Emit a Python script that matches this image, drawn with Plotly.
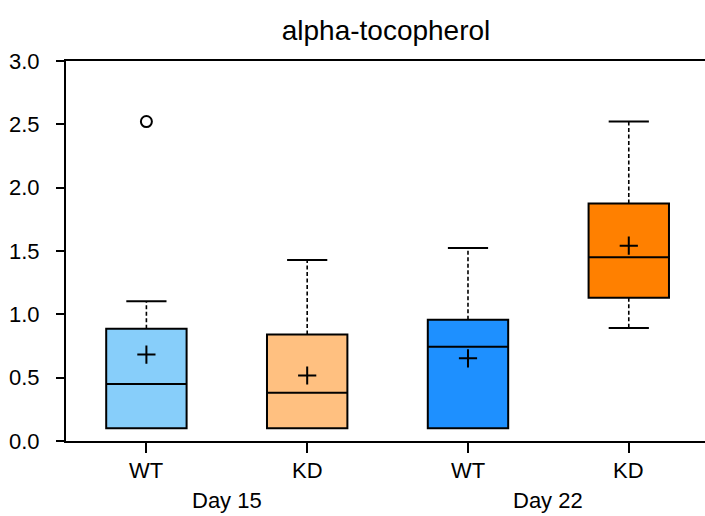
import plotly.graph_objects as go

# ---- data ----
categories = ["WT", "KD", "WT", "KD"]
days = ["Day 15", "Day 22"]
q1 = [0.10, 0.10, 0.10, 1.13]
median = [0.45, 0.38, 0.745, 1.45]
q3 = [0.887, 0.84, 0.958, 1.875]
lower = [0.10, 0.10, 0.10, 0.893]
upper = [1.103, 1.429, 1.524, 2.522]
means = [0.682, 0.517, 0.653, 1.542]
outlier_x = [0]
outlier_y = [2.522]
colors = ["#87CEFA", "#FFC080", "#1E90FF", "#FF8000"]

FONT = "Liberation Sans, Arial, sans-serif"
BOX_W = 0.5
CAP_W = 0.25
PLOT_L, PLOT_T, PLOT_B = 65.5, 61, 441.5
H = 516

fig = go.Figure()

# whiskers (dashed) and caps (solid)
wx, wy, cx, cy = [], [], [], []
for i in range(len(categories)):
    if upper[i] > q3[i]:
        wx += [i, i, None]; wy += [q3[i], upper[i], None]
        cx += [i - CAP_W / 2, i + CAP_W / 2, None]; cy += [upper[i], upper[i], None]
    if lower[i] < q1[i]:
        wx += [i, i, None]; wy += [q1[i], lower[i], None]
        cx += [i - CAP_W / 2, i + CAP_W / 2, None]; cy += [lower[i], lower[i], None]

fig.add_trace(go.Scatter(x=wx, y=wy, mode="lines", hoverinfo="skip",
                         line=dict(color="black", width=1.6, dash="4px,2.5px"),
                         showlegend=False))
fig.add_trace(go.Scatter(x=cx, y=cy, mode="lines", hoverinfo="skip",
                         line=dict(color="black", width=2), showlegend=False))

for i in range(len(categories)):
    fig.add_trace(go.Box(
        x=[i], q1=[q1[i]], median=[median[i]], q3=[q3[i]],
        lowerfence=[q1[i]], upperfence=[q3[i]],
        width=BOX_W, fillcolor=colors[i],
        line=dict(color="black", width=2),
        whiskerwidth=0, boxpoints=False, showlegend=False))

fig.add_trace(go.Scatter(x=list(range(len(categories))), y=means, mode="markers",
                         marker=dict(symbol="cross-thin", size=13,
                                     line=dict(color="black", width=2)),
                         showlegend=False))
fig.add_trace(go.Scatter(x=outlier_x, y=outlier_y, mode="markers",
                         marker=dict(symbol="circle-open", size=11, color="black",
                                     line=dict(color="black", width=2)),
                         showlegend=False))

plot_h = PLOT_B - PLOT_T
for i, c in enumerate(categories):
    fig.add_annotation(x=i, y=(PLOT_B - 471.5) / plot_h, xref="x", yref="paper",
                       text=c, showarrow=False, yanchor="middle",
                       font=dict(family=FONT, size=22, color="black"))
for k, d in enumerate(days):
    fig.add_annotation(x=2 * k + 0.5, y=(PLOT_B - 501) / plot_h, xref="x", yref="paper",
                       text=d, showarrow=False, yanchor="middle",
                       font=dict(family=FONT, size=22, color="black"))

fig.update_layout(
    width=705, height=H,
    margin=dict(l=PLOT_L, r=0, t=PLOT_T, b=H - PLOT_B),
    paper_bgcolor="white", plot_bgcolor="white",
    title=dict(text="alpha-tocopherol", x=386 / 705, xanchor="center",
               y=1 - 30 / H, yanchor="middle",
               font=dict(family=FONT, size=28, color="black")),
    font=dict(family=FONT, size=22, color="black"),
    xaxis=dict(range=[-0.5, 3.474], tickmode="array",
               tickvals=list(range(len(categories))), ticktext=[""] * len(categories),
               showgrid=False, zeroline=False, showline=True, linecolor="black",
               linewidth=2, mirror=True, ticks="outside", ticklen=10, tickwidth=2,
               tickcolor="black"),
    yaxis=dict(range=[0, 3.0], tickvals=[0, 0.5, 1.0, 1.5, 2.0, 2.5, 3.0],
               ticktext=["0.0", "0.5", "1.0", "1.5", "2.0", "2.5", "3.0"],
               showgrid=False, zeroline=False, showline=True, linecolor="black",
               linewidth=2, ticks="outside", ticklen=8, tickwidth=2,
               tickcolor="black", ticklabelstandoff=12),
)

fig.write_html("out.html", config={"displayModeBar": False},
               post_script="document.body.style.margin='0';")
